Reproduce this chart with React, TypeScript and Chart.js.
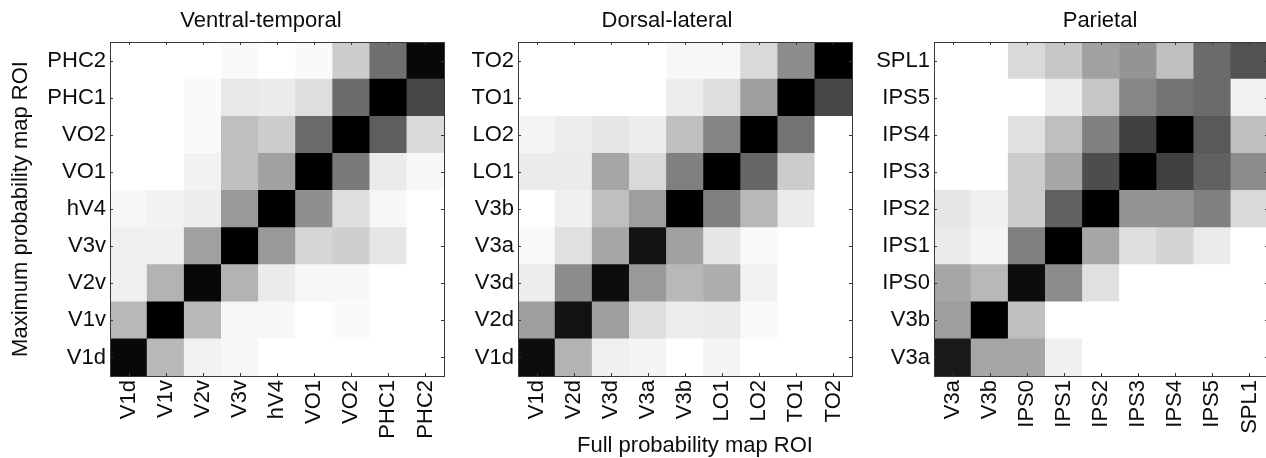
import React, { useEffect, useRef } from "react";
import { Chart, registerables } from "chart.js";

Chart.register(...registerables);

// ---------- data ----------
const vtLabels = ["V1d", "V1v", "V2v", "V3v", "hV4", "VO1", "VO2", "PHC1", "PHC2"];
// rows in label order (bottom row first), columns in label order; 0 = white, 1 = black
const vtV1d = [0.97, 0.28, 0.05, 0.03, 0, 0, 0, 0, 0];
const vtV1v = [0.28, 1.0, 0.28, 0.03, 0.03, 0, 0.02, 0, 0];
const vtV2v = [0.06, 0.3, 0.97, 0.3, 0.08, 0.03, 0.03, 0, 0];
const vtV3v = [0.06, 0.06, 0.37, 1.0, 0.4, 0.16, 0.19, 0.1, 0];
const vthV4 = [0.03, 0.05, 0.07, 0.4, 1.0, 0.44, 0.13, 0.03, 0];
const vtVO1 = [0, 0, 0.05, 0.25, 0.37, 1.0, 0.52, 0.08, 0.03];
const vtVO2 = [0, 0, 0.02, 0.25, 0.2, 0.58, 1.0, 0.63, 0.14];
const vtPHC1 = [0, 0, 0.02, 0.09, 0.08, 0.13, 0.58, 1.0, 0.72];
const vtPHC2 = [0, 0, 0, 0.02, 0, 0.02, 0.2, 0.56, 0.97];
const vtValues = [vtV1d, vtV1v, vtV2v, vtV3v, vthV4, vtVO1, vtVO2, vtPHC1, vtPHC2];

const dlLabels = ["V1d", "V2d", "V3d", "V3a", "V3b", "LO1", "LO2", "TO1", "TO2"];
const dlV1d = [0.95, 0.3, 0.06, 0.04, 0, 0.04, 0, 0, 0];
const dlV2d = [0.38, 0.93, 0.38, 0.13, 0.07, 0.08, 0.02, 0, 0];
const dlV3d = [0.07, 0.45, 0.95, 0.4, 0.28, 0.32, 0.05, 0, 0];
const dlV3a = [0.02, 0.12, 0.35, 0.92, 0.37, 0.1, 0.02, 0, 0];
const dlV3b = [0, 0.06, 0.25, 0.38, 1.0, 0.5, 0.28, 0.08, 0];
const dlLO1 = [0.08, 0.08, 0.35, 0.15, 0.5, 1.0, 0.6, 0.2, 0];
const dlLO2 = [0.04, 0.07, 0.1, 0.07, 0.25, 0.48, 1.0, 0.55, 0];
const dlTO1 = [0, 0, 0, 0, 0.07, 0.13, 0.38, 1.0, 0.72];
const dlTO2 = [0, 0, 0, 0, 0.03, 0.03, 0.15, 0.45, 1.0];
const dlValues = [dlV1d, dlV2d, dlV3d, dlV3a, dlV3b, dlLO1, dlLO2, dlTO1, dlTO2];

const parLabels = ["V3a", "V3b", "IPS0", "IPS1", "IPS2", "IPS3", "IPS4", "IPS5", "SPL1"];
const parV3a = [0.9, 0.35, 0.35, 0.06, 0, 0, 0, 0, 0];
const parV3b = [0.38, 1.0, 0.25, 0, 0, 0, 0, 0, 0];
const parIPS0 = [0.35, 0.28, 0.95, 0.45, 0.12, 0, 0, 0, 0];
const parIPS1 = [0.08, 0.04, 0.5, 1.0, 0.35, 0.13, 0.17, 0.08, 0];
const parIPS2 = [0.1, 0.06, 0.2, 0.62, 1.0, 0.42, 0.42, 0.5, 0.15];
const parIPS3 = [0, 0, 0.2, 0.35, 0.7, 1.0, 0.75, 0.62, 0.45];
const parIPS4 = [0, 0, 0.12, 0.25, 0.5, 0.75, 1.0, 0.65, 0.25];
const parIPS5 = [0, 0, 0, 0.07, 0.22, 0.47, 0.55, 0.58, 0.05];
const parSPL1 = [0, 0, 0.15, 0.22, 0.37, 0.42, 0.25, 0.58, 0.68];
const parValues = [parV3a, parV3b, parIPS0, parIPS1, parIPS2, parIPS3, parIPS4, parIPS5, parSPL1];

const titles = ["Ventral-temporal", "Dorsal-lateral", "Parietal"];
const yAxisTitle = "Maximum probability map ROI";
const xAxisTitle = "Full probability map ROI";

// ---------- styling / layout ----------
const FONT = "'Liberation Sans', Arial, Helvetica, sans-serif";
const FS = 22;
const TEXT = "#0d0d0d";
const FRAME = "#383838";
const CANVAS_H = 470;
const PLOT_BOTTOM = 376;

type Panel = {
  title: string;
  labels: string[];
  values: number[][];
  left: number;
  width: number;
  yAxisWidth: number;
  rightSpace: number;
  yTitle?: string;
  xTitle?: string;
  xTitleShift?: number;
  xTitleY?: number;
};

const panels: Panel[] = [
  { title: titles[0], labels: vtLabels, values: vtValues, left: 0, width: 522, yAxisWidth: 110, rightSpace: 78, yTitle: yAxisTitle },
  { title: titles[1], labels: dlLabels, values: dlValues, left: 450, width: 434, yAxisWidth: 68, rightSpace: 32, xTitle: xAxisTitle, xTitleShift: 10, xTitleY: 446 },
  { title: titles[2], labels: parLabels, values: parValues, left: 870, width: 460, yAxisWidth: 64, rightSpace: 62 },
];

const gray = (v: number) => {
  const c = Math.round(255 * (1 - Math.max(0, Math.min(1, v))));
  return `rgb(${c},${c},${c})`;
};

const framePlugin = {
  id: "frame",
  afterDatasetsDraw(chart: any) {
    const { ctx, chartArea: a } = chart;
    const xs = chart.scales.x;
    const ys = chart.scales.yLabels;
    const len = 3;
    ctx.save();
    ctx.strokeStyle = FRAME;
    ctx.lineWidth = 1;
    ctx.beginPath();
    for (let i = 0; i < xs.ticks.length; i++) {
      const px = Math.round(xs.getPixelForTick(i)) + 0.5;
      ctx.moveTo(px, a.top);
      ctx.lineTo(px, a.top + len);
      ctx.moveTo(px, a.bottom);
      ctx.lineTo(px, a.bottom - len);
    }
    for (let i = 0; i < ys.ticks.length; i++) {
      const py = Math.round(ys.getPixelForTick(i)) + 0.5;
      ctx.moveTo(a.left, py);
      ctx.lineTo(a.left + len, py);
      ctx.moveTo(a.right, py);
      ctx.lineTo(a.right - len, py);
    }
    ctx.stroke();
    ctx.strokeRect(a.left + 0.5, a.top + 0.5, a.right - a.left, a.bottom - a.top);
    ctx.restore();
  },
};

// shared x-axis caption, drawn under the middle panel's axis
const xCaptionPlugin = {
  id: "xCaption",
  afterDraw(chart: any, _args: any, opts: any) {
    if (!opts || !opts.text) return;
    const { ctx, chartArea: a } = chart;
    ctx.save();
    ctx.font = `${FS}px ${FONT}`;
    ctx.fillStyle = TEXT;
    ctx.textAlign = "center";
    ctx.textBaseline = "middle";
    ctx.fillText(opts.text, (a.left + a.right) / 2 + (opts.shift || 0), opts.y);
    ctx.restore();
  },
};

function HeatPanel({ p }: { p: Panel }) {
  const ref = useRef<HTMLCanvasElement | null>(null);
  useEffect(() => {
    if (!ref.current) return;
    const n = p.labels.length;
    const datasets = p.values.map((row, r) => ({
      label: p.labels[r],
      data: row.map(() => 1),
      backgroundColor: row.map(gray),
      borderWidth: 0,
      categoryPercentage: 1,
      barPercentage: 1,
    }));
    const chart = new Chart(ref.current, {
      type: "bar",
      data: { labels: p.labels, datasets },
      plugins: [framePlugin, xCaptionPlugin],
      options: {
        responsive: false,
        animation: false,
        layout: { padding: 0 },
        plugins: {
          legend: { display: false },
          tooltip: { enabled: false },
          title: {
            display: true,
            text: p.title,
            color: TEXT,
            font: { family: FONT, size: FS, weight: "normal", lineHeight: 1.2 },
            padding: { top: 8, bottom: 42 - 8 - FS * 1.2 },
          },
          xCaption: { text: p.xTitle || "", shift: p.xTitleShift || 0, y: p.xTitleY || 0 },
        },
        scales: {
          x: {
            type: "category",
            stacked: true,
            position: "bottom",
            grid: { display: false, drawTicks: false },
            border: { display: false },
            ticks: {
              color: TEXT,
              font: { family: FONT, size: FS },
              minRotation: 90,
              maxRotation: 90,
              autoSkip: false,
              padding: 4,
            },
            afterFit: (s: any) => {
              s.height = CANVAS_H - PLOT_BOTTOM;
            },
          },
          y: {
            type: "linear",
            stacked: true,
            display: false,
            min: 0,
            max: n,
          },
          yLabels: {
            type: "category",
            position: "left",
            labels: [...p.labels].reverse(),
            offset: true,
            grid: { display: false, drawTicks: false },
            border: { display: false },
            ticks: {
              color: TEXT,
              font: { family: FONT, size: FS },
              autoSkip: false,
              padding: 4,
            },
            title: {
              display: !!p.yTitle,
              text: p.yTitle || "",
              color: TEXT,
              font: { family: FONT, size: FS, lineHeight: 1.2 },
              padding: { top: 8, bottom: 0 },
            },
            afterFit: (s: any) => {
              s.width = p.yAxisWidth;
            },
          },
          spacer: {
            type: "linear",
            position: "right",
            display: true,
            grid: { display: false, drawTicks: false },
            border: { display: false },
            ticks: { display: false },
            afterFit: (s: any) => {
              s.width = p.rightSpace;
            },
          },
        },
      } as any,
    });
    return () => chart.destroy();
  }, [p]);
  return (
    <canvas
      ref={ref}
      width={p.width}
      height={CANVAS_H}
      style={{ position: "absolute", left: p.left, top: 0, width: p.width, height: CANVAS_H }}
    />
  );
}

export default function App() {
  return (
    <div
      style={{
        position: "fixed",
        left: 0,
        top: 0,
        width: 1266,
        height: 458,
        overflow: "hidden",
        background: "#ffffff",
      }}
    >
      {panels.map((p) => (
        <HeatPanel key={p.title} p={p} />
      ))}
    </div>
  );
}
